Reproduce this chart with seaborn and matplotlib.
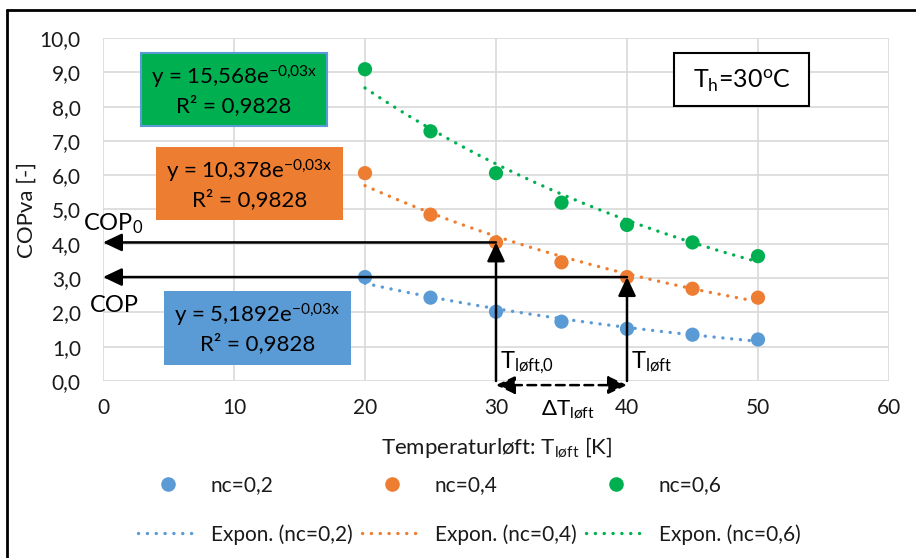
import numpy as np
import pandas as pd
import matplotlib
matplotlib.use("Agg")
import matplotlib.pyplot as plt
from matplotlib.lines import Line2D
from matplotlib.patches import Rectangle
import seaborn as sns

# --- data -------------------------------------------------------------
t_lift = [20, 25, 30, 35, 40, 45, 50]
cop_nc02 = [3.03, 2.43, 2.02, 1.73, 1.52, 1.35, 1.21]
cop_nc04 = [6.06, 4.85, 4.04, 3.46, 3.03, 2.69, 2.43]
cop_nc06 = [9.09, 7.28, 6.06, 5.20, 4.55, 4.04, 3.64]

series_names = ["nc=0,2", "nc=0,4", "nc=0,6"]
trend_coef = [5.1892, 10.378, 15.568]
trend_exp = -0.03
r_squared = ["0,9828", "0,9828", "0,9828"]

x_ticks = [0, 10, 20, 30, 40, 50, 60]
y_ticks = [0, 1, 2, 3, 4, 5, 6, 7, 8, 9, 10]

colors = ["#5B9BD5", "#ED7D31", "#00B050"]

# --- style ------------------------------------------------------------
sns.set_theme(style="white")
plt.rcParams["font.family"] = ["Lato", "DejaVu Sans"]
plt.rcParams["mathtext.fontset"] = "custom"
plt.rcParams["mathtext.rm"] = "Lato"
plt.rcParams["mathtext.it"] = "Lato:italic"
plt.rcParams["mathtext.bf"] = "Lato:bold"

W, H = 916, 558
fig = plt.figure(figsize=(W / 100, H / 100), dpi=100)
fig.patch.set_facecolor("white")

TXT = "#1a1a1a"
DOTS = (0, (0.05, 2.6))


def fx(px):
    return px / W


def fy(py):
    return 1 - py / H


ax = fig.add_axes([fx(103), fy(381), fx(889) - fx(103), fy(38) - fy(381)])

# --- tidy frames for seaborn -----------------------------------------
points = pd.DataFrame({
    "T": t_lift * 3,
    "COP": cop_nc02 + cop_nc04 + cop_nc06,
    "serie": sum([[n] * len(t_lift) for n in series_names], []),
})

x_fit = np.linspace(t_lift[0], t_lift[-1], 200)
trend = pd.DataFrame({
    "T": np.tile(x_fit, 3),
    "COP": np.concatenate([a * np.exp(trend_exp * x_fit) for a in trend_coef]),
    "serie": np.repeat(series_names, len(x_fit)),
})

palette = dict(zip(series_names, colors))

sns.lineplot(data=trend, x="T", y="COP", hue="serie", palette=palette,
             linestyle=DOTS, linewidth=2.4, legend=False, ax=ax, zorder=3)
for ln in ax.lines:
    ln.set_dash_capstyle("round")
sns.scatterplot(data=points, x="T", y="COP", hue="serie", palette=palette,
                s=105, edgecolor="none", legend=False, ax=ax, zorder=4)

# --- axes -------------------------------------------------------------
ax.set_xlim(0, 60)
ax.set_ylim(0, 10)
ax.set_xticks(x_ticks)
ax.set_yticks(y_ticks)
ax.set_xticklabels([str(v) for v in x_ticks], fontsize=15)
ax.set_yticklabels([f"{v:.1f}".replace(".", ",") for v in y_ticks], fontsize=15)
ax.tick_params(axis="x", length=0, pad=12, colors=TXT)
ax.tick_params(axis="y", length=0, pad=16, colors=TXT)
ax.grid(True, color="#D9D9D9", linewidth=1.2)
ax.set_axisbelow(True)
for s in ax.spines.values():
    s.set_visible(False)
ax.set_xlabel("")
ax.set_ylabel("")

fig.text(fx(497), fy(447), r"Temperaturløft: T$_{\mathregular{løft}}$ [K]",
         ha="center", va="center", fontsize=16, color=TXT)
fig.text(fx(27), fy(210), "COPva [-]", rotation=90, ha="center", va="center",
         fontsize=16, color=TXT)

# --- arrows -----------------------------------------------------------
cop0 = cop_nc04[t_lift.index(30)]
cop1 = cop_nc04[t_lift.index(40)]
arrow_kw = dict(arrowstyle="-|>,head_length=0.95,head_width=0.45",
                color="black", lw=1.8, shrinkA=0, shrinkB=0,
                mutation_scale=12)

ax.annotate("", xy=(0, cop0), xytext=(30, cop0), arrowprops=arrow_kw,
            annotation_clip=False, zorder=5)
ax.annotate("", xy=(0, cop1), xytext=(40, cop1), arrowprops=arrow_kw,
            annotation_clip=False, zorder=5)
ax.annotate("", xy=(30, cop0), xytext=(30, 0), arrowprops=arrow_kw,
            annotation_clip=False, zorder=5)
ax.annotate("", xy=(40, cop1), xytext=(40, 0), arrowprops=arrow_kw,
            annotation_clip=False, zorder=5)
dash_kw = dict(arrow_kw)
dash_kw["arrowstyle"] = "<|-|>,head_length=0.95,head_width=0.45"
dash_kw["linestyle"] = (0, (3.5, 2.2))
ax.annotate("", xy=(40, -0.12), xytext=(30, -0.12), arrowprops=dash_kw,
            annotation_clip=False, zorder=5)

label_kw = dict(fontsize=17, color="black", va="baseline", ha="left")
fig.text(fx(83), fy(230), r"COP$_{\mathregular{0}}$", **label_kw)
fig.text(fx(90), fy(312), "COP", **label_kw)
fig.text(fx(500), fy(368), r"T$_{\mathregular{løft{,}0}}$", **label_kw)
fig.text(fx(631), fy(368), r"T$_{\mathregular{løft}}$", **label_kw)
fig.text(fx(541), fy(415), r"$\Delta$T$_{\mathregular{løft}}$",
         fontsize=16, color="black", va="baseline", ha="left")

# --- equation boxes ---------------------------------------------------
def box(x0, y0, x1, y1, face, edge=None, lw=0):
    r = Rectangle((fx(x0), fy(y1)), fx(x1) - fx(x0), fy(y0) - fy(y1),
                  transform=fig.transFigure, facecolor=face,
                  edgecolor=edge if edge else face, linewidth=lw, zorder=6)
    fig.add_artist(r)
    return ((x0 + x1) / 2, (y0 + y1) / 2)


eq_boxes = [(164, 291, 351, 365), (156, 147, 343, 220), (141, 53, 327, 126)]
for i, (b, a) in enumerate(zip(eq_boxes, trend_coef)):
    edge = "#5B9BD5" if i == 2 else None
    cx, cy = box(*b, face=colors[i], edge=edge, lw=1.5 if edge else 0)
    coef = f"{a:g}".replace(".", ",")
    expo = f"{trend_exp:g}".replace(".", "{,}")
    txt = (f"y = {coef}e$^{{\\mathregular{{{expo}x}}}}$\n"
           f"R² = {r_squared[i]}")
    fig.text(fx(cx), fy(cy), txt, ha="center", va="center", fontsize=16,
             color="black", linespacing=1.25, zorder=7)

cx, cy = box(674, 53, 809, 106, face="white", edge="black", lw=1.5)
fig.text(fx(cx), fy(cy + 1), r"T$_{\mathregular{h}}$=30$^{\mathregular{o}}$C",
         ha="center", va="center", fontsize=18, color="black", zorder=7)

# --- legend -----------------------------------------------------------
handles, labels = [], []
for name, c in zip(series_names, colors):
    handles.append(Line2D([], [], marker="o", linestyle="none", color=c,
                          markersize=10.5, markeredgewidth=0))
    labels.append(name)
    handles.append(Line2D([], [], linestyle=DOTS, color=c,
                          linewidth=2.4, dash_capstyle="round"))
    labels.append(f"Expon. ({name})")

fig.legend(handles, labels, ncol=3, loc="upper left",
           bbox_to_anchor=(fx(138), fy(475)), frameon=False, fontsize=15,
           handlelength=2.9, handletextpad=0.6, columnspacing=0.45,
           labelspacing=1.4, borderpad=0, borderaxespad=0, labelcolor=TXT)

# outer frame
fig.add_artist(Line2D([fx(7), fx(7)], [fy(10), 0], color="black", lw=2,
                      transform=fig.transFigure))
fig.add_artist(Line2D([fx(7), 1], [fy(10), fy(10)], color="black", lw=2,
                      transform=fig.transFigure))

fig.savefig("out.png", dpi=100)
